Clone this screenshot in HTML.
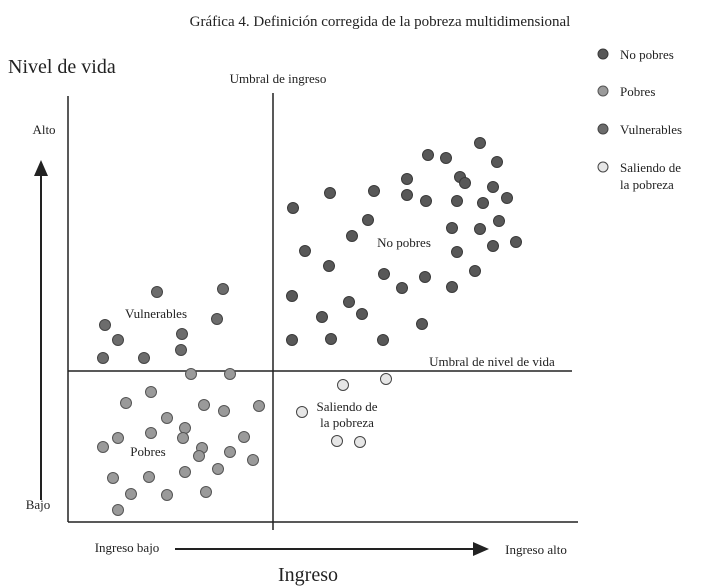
<!DOCTYPE html>
<html><head><meta charset="utf-8"><style>
html,body{margin:0;padding:0;background:#fff;}
svg{display:block;font-family:"Liberation Serif",serif;}
</style></head><body>
<svg width="719" height="588" viewBox="0 0 719 588">
<text x="380" y="26" font-size="15" text-anchor="middle" fill="#222">Gráfica 4. Definición corregida de la pobreza multidimensional</text>
<text x="8" y="73" font-size="20" fill="#222">Nivel de vida</text>
<text x="278" y="83" font-size="13" text-anchor="middle" fill="#222">Umbral de ingreso</text>
<text x="44" y="134" font-size="13" text-anchor="middle" fill="#222">Alto</text>
<text x="38" y="509" font-size="13" text-anchor="middle" fill="#222">Bajo</text>
<line x1="41" y1="500" x2="41" y2="175" stroke="#222" stroke-width="2"/>
<polygon points="34,176 48,176 41,160" fill="#222"/>
<line x1="68" y1="96" x2="68" y2="522" stroke="#222" stroke-width="1.5"/>
<line x1="68" y1="522" x2="578" y2="522" stroke="#222" stroke-width="1.5"/>
<line x1="273" y1="93" x2="273" y2="530" stroke="#222" stroke-width="1.5"/>
<line x1="68" y1="371" x2="572" y2="371" stroke="#222" stroke-width="1.5"/>
<text x="492" y="366" font-size="13" text-anchor="middle" fill="#222">Umbral de nivel de vida</text>
<text x="404" y="247" font-size="13" text-anchor="middle" fill="#222">No pobres</text>
<text x="156" y="318" font-size="13" text-anchor="middle" fill="#222">Vulnerables</text>
<text x="148" y="456" font-size="13" text-anchor="middle" fill="#222">Pobres</text>
<text x="347" y="411" font-size="13" text-anchor="middle" fill="#222">Saliendo de</text>
<text x="347" y="427" font-size="13" text-anchor="middle" fill="#222">la pobreza</text>
<text x="127" y="552" font-size="13" text-anchor="middle" fill="#222">Ingreso bajo</text>
<text x="536" y="554" font-size="13" text-anchor="middle" fill="#222">Ingreso alto</text>
<line x1="175" y1="549" x2="474" y2="549" stroke="#222" stroke-width="2"/>
<polygon points="473,542 473,556 489,549" fill="#222"/>
<text x="308" y="581" font-size="20" text-anchor="middle" fill="#222">Ingreso</text>
<g id="points"></g>
<g id="legend"></g>
</svg>
<script>
// income (x) and living standard (y) values in chart units (0 = origin)
const noPobresX=[412,360,378,429,339,392,397,425,262,306,339,358,389,415,439,225,300,431,384,412,284,237,425,448,389,261,316,357,334,384,407,224,281,254,294,354,224,263,315];
const noPobresY=[379,367,364,360,343,345,339,335,329,331,327,321,321,319,324,314,302,301,294,293,286,271,276,280,270,256,248,245,234,235,251,226,220,205,208,198,182,183,182];
const vulnX=[89,155,37,149,50,114,35,76,113];
const vulnY=[230,233,197,203,182,188,164,164,172];
const pobresX=[123,162,83,58,136,156,191,99,117,83,115,50,35,176,134,131,162,185,45,81,117,150,63,99,138,50];
const pobresY=[148,148,130,119,117,111,116,104,94,89,84,84,75,85,74,66,70,62,44,45,50,53,28,27,30,12];
const salX=[275,318,234,269,292];
const salY=[137,143,110,81,80];
const legendLabels=[["No pobres"],["Pobres"],["Vulnerables"],["Saliendo de","la pobreza"]];
const fills=["#585858","#9a9a9a","#6c6c6c","#e6e6e6"];
const strokes=["#3a3a3a","#555","#444","#444"];

function xs(v){return 68+v;}
function ys(v){return 522-v;}
const NS="http://www.w3.org/2000/svg";
const g=document.getElementById('points');
function draw(X,Y,k,name){
  for(let i=0;i<X.length;i++){
    const c=document.createElementNS(NS,'circle');
    c.setAttribute('cx',xs(X[i]));c.setAttribute('cy',ys(Y[i]));c.setAttribute('r',5.5);
    c.setAttribute('fill',fills[k]);c.setAttribute('stroke',strokes[k]);c.setAttribute('stroke-width',1);
    
    
    g.appendChild(c);
  }
}
draw(noPobresX,noPobresY,0,'no-pobres-point');
draw(vulnX,vulnY,2,'vulnerables-point');
draw(pobresX,pobresY,1,'pobres-point');
draw(salX,salY,3,'saliendo-point');
const lg=document.getElementById('legend');
const ly=[54,91,129,167];
legendLabels.forEach((lab,k)=>{
  const c=document.createElementNS(NS,'circle');
  c.setAttribute('cx',603);c.setAttribute('cy',ly[k]);c.setAttribute('r',5);
  c.setAttribute('fill',fills[k]);c.setAttribute('stroke',strokes[k]);
  
  
  lg.appendChild(c);
  lab.forEach((t,j)=>{
    const tx=document.createElementNS(NS,'text');
    tx.setAttribute('x',620);tx.setAttribute('y',ly[k]+5+j*17);
    tx.setAttribute('font-size',13);tx.setAttribute('fill','#222');
    tx.textContent=t;
    
    
    lg.appendChild(tx);
  });
});
</script>
</body></html>
